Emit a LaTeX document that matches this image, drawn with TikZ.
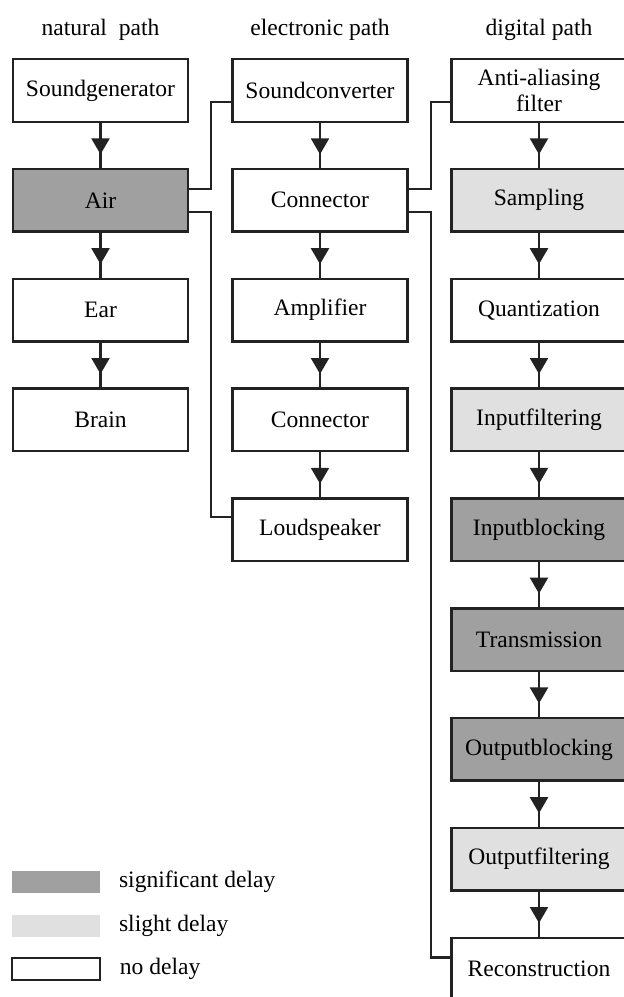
\documentclass[tikz,border=0pt]{standalone}
\usepackage{fontspec}
\setmainfont{Liberation Serif}
\usetikzlibrary{positioning,arrows.meta,decorations.markings}
\definecolor{sigdelay}{RGB}{160,160,160}
\definecolor{slightdelay}{RGB}{224,224,224}
\definecolor{linegray}{RGB}{34,34,34}

\begin{document}
\begin{tikzpicture}
	% Styles for the boxes and lines
	\tikzset{
		txt/.style={font=\fontsize{13.4}{15}\selectfont},
		stage/.style={txt,draw=linegray,line width=1.4pt,fill=white,minimum width=3.5cm,minimum height=1.25cm,inner sep=1pt,align=center},
		significant/.style={stage,fill=sigdelay},
		slight/.style={stage,fill=slightdelay},
		flow/.style={draw=linegray,line width=1.2pt,decoration={markings,mark=at position 0.7 with {\arrow{Triangle[width=3.6mm,length=3.2mm]}}},postaction={decorate}},
		branch/.style={draw=linegray,line width=1.2pt},
		swatch/.style={minimum width=1.76cm,minimum height=0.44cm,inner sep=0pt}
	}
	\useasboundingbox (0,0) rectangle (12.46,-19.94);

	% Headings
	\node [txt] (hnat) at (2.01,-0.6) {natural~~path};
	\node [txt] (hel) at (6.40,-0.6) {electronic path};
	\node [txt] (hdig) at (10.78,-0.6) {digital path};

	% natural path
	\node [stage] (sgen) at (2.01,-1.81) {Soundgenerator};
	\node [significant, below=0.897cm of sgen] (air) {Air};
	\node [stage, below=0.897cm of air] (ear) {Ear};
	\node [stage, below=0.897cm of ear] (brain) {Brain};

	% electronic path
	\node [stage] (sconv) at (6.40,-1.81) {Soundconverter};
	\node [stage, below=0.897cm of sconv] (conn1) {Connector};
	\node [stage, below=0.897cm of conn1] (amp) {Amplifier};
	\node [stage, below=0.897cm of amp] (conn2) {Connector};
	\node [stage, below=0.897cm of conn2] (lspk) {Loudspeaker};

	% digital path
	\node [stage] (aa) at (10.78,-1.81) {Anti-aliasing\\filter};
	\node [slight, below=0.897cm of aa] (samp) {Sampling};
	\node [stage, below=0.897cm of samp] (quant) {Quantization};
	\node [slight, below=0.897cm of quant] (infilt) {Inputfiltering};
	\node [significant, below=0.897cm of infilt] (inblock) {Inputblocking};
	\node [significant, below=0.897cm of inblock] (trans) {Transmission};
	\node [significant, below=0.897cm of trans] (outblock) {Outputblocking};
	\node [slight, below=0.897cm of outblock] (outfilt) {Outputfiltering};
	\node [stage, below=0.897cm of outfilt] (recon) {Reconstruction};

	% arrows down each path
	\foreach \a/\b in {sgen/air,air/ear,ear/brain,sconv/conn1,conn1/amp,amp/conn2,conn2/lspk,aa/samp,samp/quant,quant/infilt,infilt/inblock,inblock/trans,trans/outblock,outblock/outfilt,outfilt/recon}
		\draw[flow] (\a) -- (\b);

	% branches between the paths
	\draw[branch] ([yshift=2.3mm]air.east) -- ++(0.44,0) |- ([yshift=-2.3mm]sconv.west);
	\draw[branch] ([yshift=-2.3mm]air.east) -- ++(0.44,0) |- ([yshift=2.6mm]lspk.west);
	\draw[branch] ([yshift=2.3mm]conn1.east) -- ++(0.44,0) |- ([yshift=-2.3mm]aa.west);
	\draw[branch] ([yshift=-2.3mm]conn1.east) -- ++(0.44,0) |- ([yshift=2.3mm]recon.west);

	% legend
	\node [swatch, fill=sigdelay] (lsig) at (1.12,-17.64) {};
	\node [swatch, fill=slightdelay] (lsl) at (1.12,-18.52) {};
	\node [swatch, draw=linegray, line width=1.4pt] (lno) at (1.12,-19.38) {};
	\node [txt, right=0.25cm of lsig] (tsig) {significant delay};
	\node [txt, right=0.25cm of lsl] (tsl) {slight delay};
	\node [txt, right=0.25cm of lno] (tno) {no delay};

\end{tikzpicture}
\end{document}
